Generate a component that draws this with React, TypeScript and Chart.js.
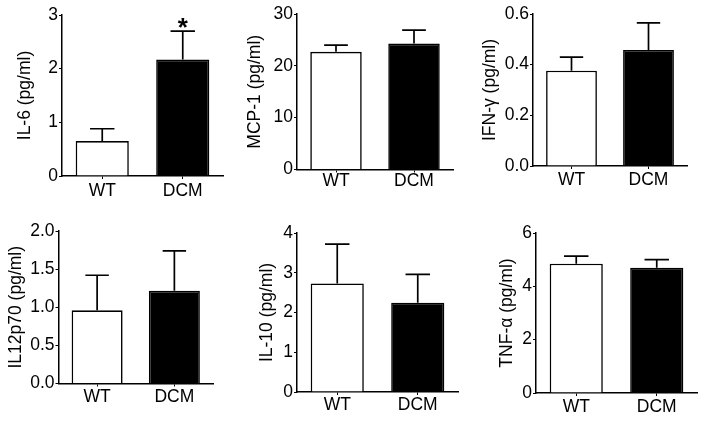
import React, { useEffect, useRef } from "react";
import { Chart, registerables } from "chart.js";

Chart.register(...registerables);

// ---------- data ----------
const groups = ["WT", "DCM"];

const il6Mean = [0.65, 2.17];
const il6Sem = [0.23, 0.53];
const il6Ticks = [0, 1, 2, 3];
const il6Sig = ["", "*"];

const mcp1Mean = [22.7, 24.3];
const mcp1Sem = [1.3, 2.6];
const mcp1Ticks = [0, 10, 20, 30];

const ifnMean = [0.376, 0.458];
const ifnSem = [0.054, 0.107];
const ifnTicks = [0, 0.2, 0.4, 0.6];

const il12Mean = [0.96, 1.215];
const il12Sem = [0.46, 0.525];
const il12Ticks = [0, 0.5, 1.0, 1.5, 2.0];

const il10Mean = [2.73, 2.245];
const il10Sem = [0.99, 0.715];
const il10Ticks = [0, 1, 2, 3, 4];

const tnfMean = [4.85, 4.7];
const tnfSem = [0.28, 0.3];
const tnfTicks = [0, 2, 4, 6];

const noSig = ["", ""];

// ---------- panel table ----------
const panels = [
  { title: "IL-6 (pg/ml)", mean: il6Mean, sem: il6Sem, ticks: il6Ticks, dec: 0, sig: il6Sig,
    box: { left: 0, top: 0, w: 232, h: 210 }, yw: 62, padTop: 15, padRight: 9, xh: 34, titleC: 25, labOff: 15 },
  { title: "MCP-1 (pg/ml)", mean: mcp1Mean, sem: mcp1Sem, ticks: mcp1Ticks, dec: 0, sig: noSig,
    box: { left: 232, top: 0, w: 232, h: 210 }, yw: 65, padTop: 14, padRight: 11, xh: 40.5, titleC: 23, labOff: 12 },
  { title: "IFN-γ (pg/ml)", mean: ifnMean, sem: ifnSem, ticks: ifnTicks, dec: 1, sig: noSig,
    box: { left: 464, top: 0, w: 240, h: 210 }, yw: 69, padTop: 14, padRight: 17, xh: 44, titleC: 26, labOff: 14 },
  { title: "IL12p70 (pg/ml)", mean: il12Mean, sem: il12Sem, ticks: il12Ticks, dec: 1, sig: noSig,
    box: { left: 0, top: 210, w: 232, h: 211 }, yw: 58.5, padTop: 21, padRight: 19, xh: 37.5, titleC: 16, labOff: 13.3 },
  { title: "IL-10 (pg/ml)", mean: il10Mean, sem: il10Sem, ticks: il10Ticks, dec: 0, sig: noSig,
    box: { left: 232, top: 210, w: 232, h: 211 }, yw: 65, padTop: 23, padRight: 6, xh: 29, titleC: 34.7, labOff: 12.7 },
  { title: "TNF-α (pg/ml)", mean: tnfMean, sem: tnfSem, ticks: tnfTicks, dec: 0, sig: noSig,
    box: { left: 464, top: 210, w: 240, h: 211 }, yw: 72, padTop: 23, padRight: 7, xh: 28, titleC: 42.7, labOff: 14 },
];

const FAMILY = '"Liberation Sans", Arial, Helvetica, sans-serif';
const FS = 17.5;
const LH = FS * 1.2;

function errorPlugin(p: any) {
  return {
    id: "errbars",
    afterDatasetsDraw(chart: any) {
      const ctx = chart.ctx;
      const meta = chart.getDatasetMeta(0);
      const ys = chart.scales.y;
      ctx.save();
      ctx.strokeStyle = "#000";
      ctx.fillStyle = "#000";
      ctx.lineWidth = 1.7;
      meta.data.forEach((bar: any, i: number) => {
        const top = ys.getPixelForValue(p.mean[i] + p.sem[i]);
        const half = bar.width * 0.23;
        ctx.beginPath();
        ctx.moveTo(bar.x, bar.y);
        ctx.lineTo(bar.x, top);
        ctx.moveTo(bar.x - half, top);
        ctx.lineTo(bar.x + half, top);
        ctx.stroke();
        if (p.sig[i]) {
          ctx.font = `bold 26px ${FAMILY}`;
          ctx.textAlign = "center";
          ctx.textBaseline = "alphabetic";
          ctx.fillText(p.sig[i], bar.x, top + 5);
        }
      });
      ctx.restore();
    },
  };
}

function Panel({ p }: { p: any }) {
  const ref = useRef<HTMLCanvasElement | null>(null);
  useEffect(() => {
    const font = { family: FAMILY, size: FS, lineHeight: 1.2 };
    const chart = new Chart(ref.current as HTMLCanvasElement, {
      type: "bar",
      data: {
        labels: groups,
        datasets: [
          {
            data: p.mean,
            backgroundColor: ["#ffffff", "#000000"],
            borderColor: "#000000",
            borderWidth: 1.6,
            barPercentage: 0.66,
            categoryPercentage: 1,
          },
        ],
      },
      options: {
        responsive: false,
        animation: false,
        devicePixelRatio: 1,
        layout: { padding: { top: p.padTop, right: p.padRight, left: 0, bottom: 0 } },
        plugins: { legend: { display: false }, tooltip: { enabled: false } },
        scales: {
          x: {
            grid: { display: true, drawOnChartArea: false, offset: false, tickLength: 3, color: "#000", lineWidth: 1 },
            border: { display: true, color: "#000", width: 1.5 },
            ticks: { font, color: "#000", padding: p.labOff - 3 - LH / 2, maxRotation: 0 },
            afterFit: (s: any) => {
              s.height = p.xh;
              s.paddingLeft = 0;
              s.paddingRight = 0;
            },
          },
          y: {
            min: 0,
            max: p.ticks[p.ticks.length - 1],
            afterBuildTicks: (s: any) => {
              s.ticks = p.ticks.map((v: number) => ({ value: v }));
            },
            ticks: {
              font,
              color: "#000",
              padding: 1,
              callback: (v: any) => Number(v).toFixed(p.dec),
            },
            grid: { display: true, drawOnChartArea: false, tickLength: 3, color: "#000", lineWidth: 1 },
            border: { display: true, color: "#000", width: 1.5 },
            title: {
              display: true,
              text: p.title,
              color: "#000",
              font,
              padding: { top: p.titleC - LH / 2, bottom: 0 },
            },
            afterFit: (s: any) => {
              s.width = p.yw;
              s.paddingTop = 0;
              s.paddingBottom = 0;
            },
          },
        },
      },
      plugins: [errorPlugin(p)],
    } as any);
    return () => chart.destroy();
  }, []);
  return (
    <canvas
      ref={ref}
      width={p.box.w}
      height={p.box.h}
      style={{ position: "absolute", left: p.box.left, top: p.box.top, width: p.box.w, height: p.box.h }}
    />
  );
}

export default function App() {
  return (
    <div style={{ position: "absolute", left: 0, top: 0, width: 704, height: 421, background: "#fff", overflow: "hidden" }}>
      {panels.map((p, i) => (
        <Panel key={i} p={p} />
      ))}
    </div>
  );
}
